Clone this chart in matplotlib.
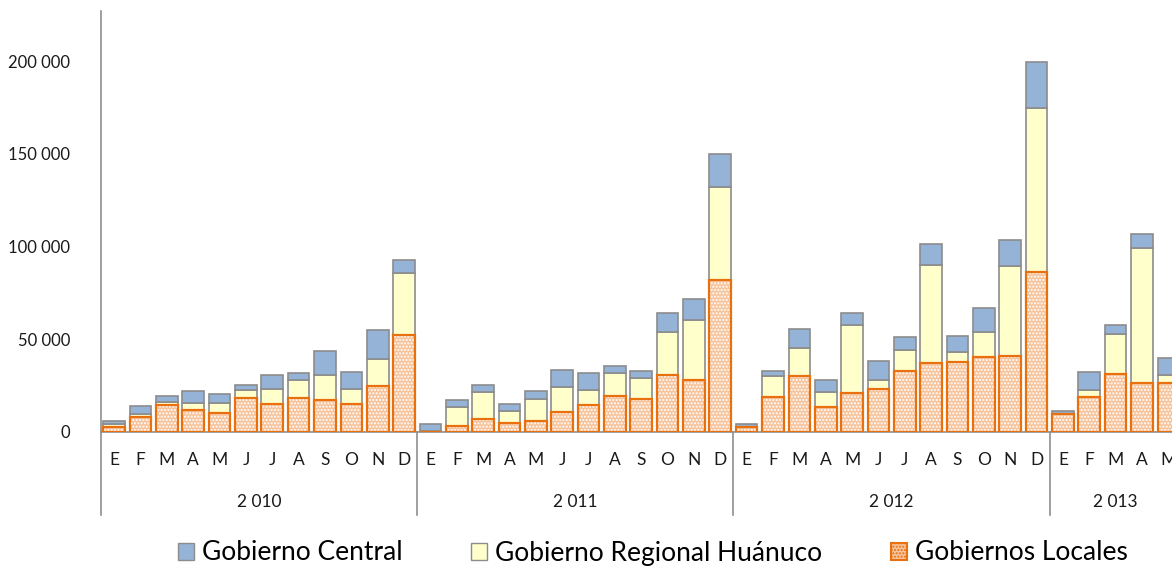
import matplotlib
matplotlib.use('Agg')
import matplotlib.pyplot as plt
import matplotlib.patches as mpatches
import numpy as np

plt.rcParams['font.family'] = ['Lato', 'DejaVu Sans']
plt.rcParams['hatch.linewidth'] = 1.0

# meses y años
months = ['E', 'F', 'M', 'A', 'M', 'J', 'J', 'A', 'S', 'O', 'N', 'D']
years = ['2 010', '2 011', '2 012', '2 013']
months_per_year = [12, 12, 12, 5]

# Gobiernos Locales
locales_2010 = [2900, 8300, 14500, 11700, 10400, 18150, 15100, 18150, 17100, 15300, 24800, 52100]
locales_2011 = [200, 3000, 6800, 4700, 5750, 10600, 14400, 19400, 17600, 30900, 27900, 82100]
locales_2012 = [2500, 18900, 30000, 13700, 21000, 23200, 33100, 37200, 37700, 40400, 40800, 86300]
locales_2013 = [9500, 19050, 31300, 26400, 26400]

# Gobierno Regional Huánuco
regional_2010 = [1400, 1400, 1700, 4100, 5400, 4300, 8300, 9900, 13600, 7900, 14800, 33700]
regional_2011 = [100, 10500, 14600, 6600, 12050, 13500, 8200, 12600, 11300, 22800, 32300, 50200]
regional_2012 = [300, 11300, 15100, 7700, 36700, 4700, 11100, 53000, 5400, 13700, 48500, 88500]
regional_2013 = [300, 3600, 21500, 72600, 4200]

# Gobierno Central
central_2010 = [1450, 4100, 3000, 6500, 4700, 3000, 7500, 3500, 13200, 9200, 15600, 7000]
central_2011 = [4000, 3750, 4100, 4000, 4100, 9300, 9400, 3600, 3800, 10600, 11700, 17600]
central_2012 = [1300, 2500, 10600, 6600, 6300, 10600, 7200, 11200, 8800, 12700, 14400, 24500]
central_2013 = [1300, 9900, 5100, 7700, 9100]

locales = np.array(locales_2010 + locales_2011 + locales_2012 + locales_2013)
regional = np.array(regional_2010 + regional_2011 + regional_2012 + regional_2013)
central = np.array(central_2010 + central_2011 + central_2012 + central_2013)

yticks = [0, 50000, 100000, 150000, 200000]

c_blue = '#95b3d7'
c_yellow = '#ffffcc'
c_orange = '#f7c39b'
c_orange_edge = '#e8700f'
c_gray = '#8c8c8c'

fig = plt.figure(figsize=(11.72, 5.67), dpi=100)
ax = fig.add_axes([101 / 1172, 135 / 567, 1071 / 1172, 421 / 567])

x = np.arange(len(locales))
w = 0.82

# locales: relleno punteado y borde naranja
ax.bar(x, locales, w, color=c_orange, edgecolor='white', linewidth=0, hatch='.....', zorder=2)
ax.bar(x, locales, w, color='none', edgecolor=c_orange_edge, linewidth=1.6, zorder=3)
ax.bar(x, regional, w, bottom=locales, color=c_yellow, edgecolor=c_gray, linewidth=1.2, zorder=2)
ax.bar(x, central, w, bottom=locales + regional, color=c_blue, edgecolor=c_gray, linewidth=1.2, zorder=2)

ax.set_xlim(-0.5, 40.14)
ax.set_ylim(0, 227000)

ax.set_yticks(yticks)
ax.set_yticklabels(['{:,}'.format(v).replace(',', ' ') for v in yticks])
ax.tick_params(axis='y', length=0, pad=22, labelsize=12, labelcolor='#1a1a1a')
ax.set_xticks([])

for s in ['top', 'right']:
    ax.spines[s].set_visible(False)
ax.spines['left'].set_color('#8f8f8f')
ax.spines['bottom'].set_color('#8f8f8f')
ax.spines['left'].set_linewidth(1.2)
ax.spines['bottom'].set_linewidth(1.2)

# etiquetas de meses y años
trans = ax.get_xaxis_transform()
px = 1.0 / 421
start = 0
for yr, n in zip(years, months_per_year):
    for i in range(n):
        ax.text(start + i, -28 * px, months[i], transform=trans, ha='center', va='center',
                fontsize=12.5, color='#1a1a1a', clip_on=False)
    ax.text(start + (n - 1) / 2, -70 * px, yr, transform=trans, ha='center', va='center',
            fontsize=12.5, color='#1a1a1a', clip_on=False)
    ax.plot([start - 0.5, start - 0.5], [0, -83 * px], transform=trans, color='#8f8f8f',
            linewidth=1.2, clip_on=False)
    start += n

handles = [
    mpatches.Patch(facecolor=c_blue, edgecolor=c_gray, linewidth=1.0, label='Gobierno Central'),
    mpatches.Patch(facecolor=c_yellow, edgecolor=c_gray, linewidth=1.0, label='Gobierno Regional Huánuco'),
    mpatches.Patch(facecolor=c_orange, edgecolor=c_orange_edge, linewidth=1.5, hatch='.....',
                   label='Gobiernos Locales'),
]
fig.legend(handles=handles, loc='center', bbox_to_anchor=(653 / 1172, 14 / 567), ncol=3,
           frameon=False, fontsize=19, handlelength=0.6, handleheight=0.6,
           handletextpad=0.3, columnspacing=2.6, borderaxespad=0)

fig.savefig('out.png', dpi=100)
